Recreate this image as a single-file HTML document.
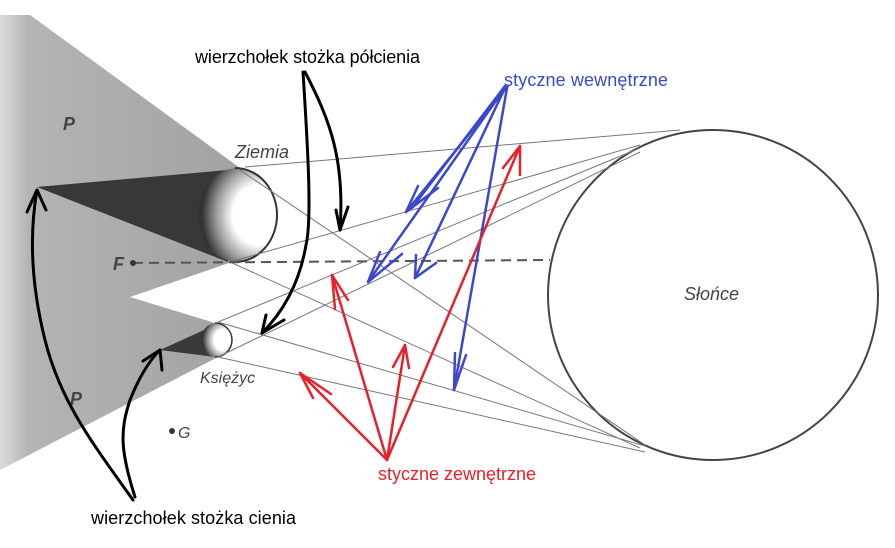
<!DOCTYPE html>
<html><head><meta charset="utf-8"><style>
html,body{margin:0;padding:0;background:#fff;}
svg{display:block;}
</style></head><body>
<svg width="895" height="548" viewBox="0 0 895 548" xmlns="http://www.w3.org/2000/svg">
<defs>
<radialGradient id="st" cx="0.75" cy="0.5" r="0.7">
<stop offset="0.45" stop-color="#fff"/><stop offset="0.75" stop-color="#999"/><stop offset="1" stop-color="#333"/>
</radialGradient>
<linearGradient id="gg" x1="0" x2="1" y1="0" y2="0">
<stop offset="0" stop-color="#dcdcdc"/><stop offset="0.12" stop-color="#b4b4b4"/><stop offset="1" stop-color="#a2a2a2"/>
</linearGradient>
</defs>
<polygon points="0,15 30,15 240,168 232,262 130,297 215,323 218,357 0,470" fill="url(#gg)"/>
<polygon points="37,187 228,170 228,262" fill="#383838"/>
<ellipse cx="238" cy="215" rx="40" ry="47" fill="url(#st)"/>
<path d="M235,168 A42,47 0 0 1 235,262" fill="none" stroke="#333" stroke-width="2"/>
<polygon points="160,350 215,325 215,357" fill="#3a3a3a"/>
<ellipse cx="216" cy="340" rx="15" ry="17" fill="url(#st)"/>
<path d="M215,323 A17,17 0 0 1 215,357" fill="none" stroke="#333" stroke-width="1.5"/>
<circle cx="713" cy="295" r="165" fill="#fff" stroke="#444" stroke-width="2"/>
<g stroke="#777" stroke-width="1" fill="none">
<line x1="245" y1="167" x2="680" y2="130"/>
<line x1="240" y1="170" x2="645" y2="445"/>
<line x1="230" y1="262" x2="640" y2="145"/>
<line x1="230" y1="262" x2="640" y2="448"/>
<line x1="218" y1="322" x2="640" y2="148"/>
<line x1="218" y1="357" x2="640" y2="152"/>
<line x1="218" y1="322" x2="645" y2="446"/>
<line x1="218" y1="357" x2="645" y2="452"/>
</g>
<line x1="133" y1="263" x2="550" y2="260" stroke="#555" stroke-width="2" stroke-dasharray="10,6"/>
<circle cx="133" cy="263" r="3" fill="#333"/>
<circle cx="172" cy="431" r="3" fill="#333"/>
<g font-family="Liberation Sans, sans-serif" font-style="italic" fill="#444">
<text x="235" y="158" font-size="18">Ziemia</text>
<text x="200" y="383" font-size="16">Księżyc</text>
<text x="684" y="300" font-size="18">Słońce</text>
<text x="63" y="130" font-size="18" font-weight="bold">P</text>
<text x="70" y="405" font-size="18" font-weight="bold">P</text>
<text x="113" y="270" font-size="18" font-weight="bold">F</text>
<text x="178" y="438" font-size="16">G</text>
</g>
<g stroke="#000" stroke-width="3" fill="none" stroke-linecap="round">
<path d="M303,72 C308,150 312,220 306,245 C300,280 285,310 262,333"/>
<path d="M262,333 L266,315 M262,333 L284,320"/>
<path d="M305,72 C330,120 345,160 340,230"/>
<path d="M340,230 L336,210 M340,230 L348,207"/>
<path d="M133,500 C90,440 60,400 45,340 C30,280 30,230 37,190"/>
<path d="M37,190 L27,212 M37,190 L46,210"/>
<path d="M135,497 C120,450 120,430 130,400 C140,375 150,360 160,350"/>
<path d="M160,350 L143,361 M160,350 L162,370"/>
</g>
<g stroke="#3c47d0" stroke-width="2.5" fill="none" stroke-linecap="round">
<line x1="508" y1="86" x2="406" y2="212"/>
<line x1="505" y1="86" x2="412" y2="208"/>
<path d="M406,212 L418,186 M406,212 L438,188"/>
<line x1="505" y1="88" x2="368" y2="282"/>
<path d="M368,282 L380,252 M368,282 L402,254"/>
<line x1="505" y1="88" x2="415" y2="278"/>
<path d="M415,278 L416,255 M415,278 L436,263"/>
<line x1="507" y1="88" x2="454" y2="390"/>
<path d="M454,390 L455,353 M454,390 L466,355"/>
</g>
<g stroke="#e8202a" stroke-width="2.5" fill="none" stroke-linecap="round">
<line x1="387" y1="460" x2="300" y2="373"/>
<path d="M300,373 L331,394 M300,373 L313,398"/>
<line x1="387" y1="460" x2="332" y2="275"/>
<path d="M332,275 L335,309 M332,275 L348,300"/>
<line x1="387" y1="460" x2="405" y2="345"/>
<path d="M405,345 L393,367 M405,345 L409,368"/>
<line x1="387" y1="460" x2="520" y2="146"/>
<path d="M520,146 L503,168 M520,146 L520,175"/>
</g>
<g font-family="Liberation Sans, sans-serif" font-size="18">
<text x="195" y="63" fill="#000" textLength="225">wierzchołek stożka półcienia</text>
<text x="504" y="86" fill="#3c47d0" textLength="164">styczne wewnętrzne</text>
<text x="378" y="480" fill="#e8202a" textLength="158">styczne zewnętrzne</text>
<text x="91" y="524" fill="#000" textLength="205">wierzchołek stożka cienia</text>
</g>
</svg>
</body></html>
